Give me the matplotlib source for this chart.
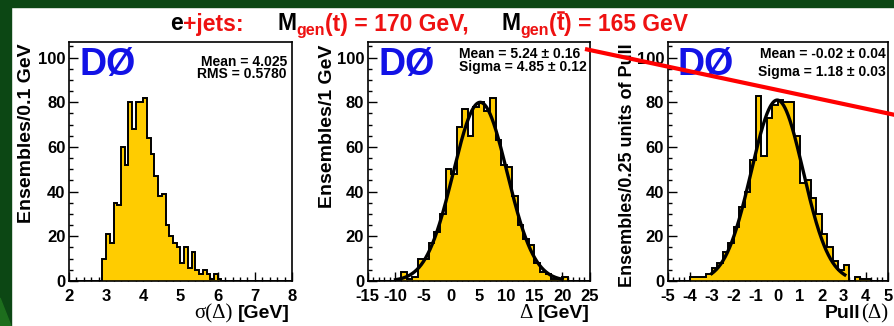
import numpy as np
import matplotlib
matplotlib.use("Agg")
import matplotlib.pyplot as plt
from matplotlib.lines import Line2D
from matplotlib.patches import Rectangle, Polygon
from matplotlib.ticker import MultipleLocator

W, H, DPI = 895, 326, 100

# sigma(Delta): 0.1 GeV bins from 2 to 8 GeV
sigma_range = (2.0, 8.0)
sigma_counts = ([0] * 9 +
                [10, 21, 17, 35, 34, 60, 52, 80, 68, 80, 80, 82, 64, 57, 47,
                 38, 39, 25, 20, 17, 15, 8, 15, 6, 13, 5, 3, 5, 3, 1, 3, 1, 0] +
                [0] * 18)
sigma_stats = ["Mean = 4.025", "RMS = 0.5780"]

# Delta: 1 GeV bins from -15 to 25 GeV
delta_range = (-15.0, 25.0)
delta_counts = [0, 0, 0, 0, 0, 0, 4, 1, 2, 10,
                10, 17, 22, 30, 50, 48, 69, 77, 65, 78,
                80, 76, 82, 63, 52, 51, 38, 25, 19, 16,
                8, 4, 3, 1, 1, 2, 0, 0, 0, 0]
delta_mean, delta_mean_err = 5.24, 0.16
delta_sigma, delta_sigma_err = 4.85, 0.12
delta_peak = 80.0
delta_fit_range = (-10.0, 20.0)

# Pull(Delta): 0.25 bins from -5 to 5
pull_range = (-5.0, 5.0)
pull_counts = [0, 0, 0, 0, 2, 2, 2, 3, 6, 8,
               13, 17, 24, 33, 40, 54, 83, 56, 73, 79,
               81, 80, 80, 65, 44, 45, 37, 30, 21, 15,
               9, 5, 7, 0, 2, 1, 1, 0, 0, 0]
pull_mean, pull_mean_err = -0.02, 0.04
pull_sigma, pull_sigma_err = 1.18, 0.03
pull_peak = 81.0
pull_fit_range = (-3.0, 3.05)

GOLD = "#ffcc00"
RED = "#ee1111"
BLUE = "#1212e6"
GREEN = "#0c4714"
LGREEN = "#1d6e1d"

plt.rcParams["font.family"] = ["Liberation Sans", "DejaVu Sans"]
plt.rcParams["font.weight"] = "bold"

fig = plt.figure(figsize=(W / DPI, H / DPI), dpi=DPI)
fig.patch.set_facecolor("white")


def fx(x):
    return x / W


def fy(y):
    return 1 - y / H


# slide frame
fig.add_artist(Rectangle((0, fy(6.5)), 1, 6.5 / H, transform=fig.transFigure,
                         color=GREEN, zorder=0))
fig.add_artist(Rectangle((0, 0), fx(11), 1, transform=fig.transFigure,
                         color=GREEN, zorder=0))
fig.add_artist(Polygon([(0, fy(298)), (fx(11), fy(326)), (0, fy(326))],
                       closed=True, transform=fig.transFigure, color=LGREEN,
                       zorder=0.5))

renderer = fig.canvas.get_renderer()


def run(pieces, x, y, align="left"):
    """Place text pieces one after another on a common baseline (pixels)."""
    arts = []
    total = 0.0
    for s, props, dy, gap in pieces:
        t = fig.text(0, 0, s, ha="left", va="baseline", **props)
        w = t.get_window_extent(renderer).width
        arts.append((t, dy, w, gap))
        total += w + gap
    total -= arts[-1][3]
    x0 = x - total if align == "right" else x
    for t, dy, w, gap in arts:
        t.set_position((fx(x0), fy(y + dy)))
        x0 += w + gap
    return arts


def make_axes(left_px, right_px, lo, hi, major, minor):
    ax = fig.add_axes([fx(left_px), fy(281), (right_px - left_px) / W,
                       (281 - 42) / H])
    ax.set_xlim(lo, hi)
    ax.set_ylim(0, 107)
    ax.xaxis.set_major_locator(MultipleLocator(major))
    ax.xaxis.set_minor_locator(MultipleLocator(minor))
    ax.yaxis.set_major_locator(MultipleLocator(20))
    ax.yaxis.set_minor_locator(MultipleLocator(5))
    ax.tick_params(which="both", direction="in", top=False, right=False,
                   labelsize=12, width=1.0, colors="black")
    ax.tick_params(which="major", length=6.5)
    ax.tick_params(which="minor", length=3.2)
    ax.tick_params(axis="x", which="major", pad=6)
    ax.tick_params(axis="y", which="major", pad=2.5)
    for sp in ax.spines.values():
        sp.set_linewidth(1.2)
    ax.set_xticklabels([f"{v:g}" for v in ax.get_xticks()])
    return ax


def draw_hist(ax, counts, lo, hi):
    edges = np.linspace(lo, hi, len(counts) + 1)
    ax.stairs(counts, edges, fill=True, color=GOLD, zorder=2)
    ax.stairs(counts, edges, color="black", lw=1.4, zorder=3)


def draw_fit(ax, mean, sigma, peak, xr):
    xs = np.linspace(xr[0], xr[1], 300)
    ax.plot(xs, peak * np.exp(-0.5 * ((xs - mean) / sigma) ** 2),
            color="black", lw=2.4, zorder=4)


def logo(x, y):
    fig.text(fx(x), fy(y), "DØ", color=BLUE, fontsize=27, fontweight="bold",
             ha="left", va="center")


serif = dict(family=["Liberation Serif", "DejaVu Serif"], fontweight="normal",
             fontsize=15, color="black")
sans = dict(fontsize=14, fontweight="bold", color="black")
STAT = 10

# ---- sigma(Delta) panel
ax1 = make_axes(69, 292, *sigma_range, 1, 0.2)
draw_hist(ax1, sigma_counts, *sigma_range)
logo(79, 65)
fig.text(fx(287), fy(62), sigma_stats[0], fontsize=STAT, ha="right", va="center")
fig.text(fx(287), fy(74.5), sigma_stats[1], fontsize=STAT, ha="right", va="center")
fig.text(fx(27), fy(43), "Ensembles/0.1 GeV", rotation=90, fontsize=14,
         ha="center", va="top")
run([("σ(Δ)", serif, 0, 5), ("[GeV]", sans, 0, 0)], 290, 318, align="right")

# ---- Delta panel
ax2 = make_axes(367.7, 590, *delta_range, 5, 1)
draw_hist(ax2, delta_counts, *delta_range)
draw_fit(ax2, delta_mean, delta_sigma, delta_peak, delta_fit_range)
logo(379, 65)
fig.text(fx(459), fy(53.5), f"Mean = {delta_mean:.2f} ± {delta_mean_err:.2f}",
         fontsize=STAT, ha="left", va="center")
fig.text(fx(459), fy(67), f"Sigma = {delta_sigma:.2f} ± {delta_sigma_err:.2f}",
         fontsize=STAT, ha="left", va="center")
fig.text(fx(328), fy(45), "Ensembles/1 GeV", rotation=90, fontsize=14,
         ha="center", va="top")
run([("Δ", serif, 0, 5), ("[GeV]", sans, 0, 0)], 590, 318, align="right")

# ---- Pull panel
ax3 = make_axes(667.7, 887.7, *pull_range, 1, 0.25)
draw_hist(ax3, pull_counts, *pull_range)
draw_fit(ax3, pull_mean, pull_sigma, pull_peak, pull_fit_range)
logo(678, 65)
fig.text(fx(886), fy(53.5), f"Mean = {pull_mean:.2f} ± {pull_mean_err:.2f}",
         fontsize=STAT, ha="right", va="center")
fig.text(fx(886), fy(72.5), f"Sigma = {pull_sigma:.2f} ± {pull_sigma_err:.2f}",
         fontsize=STAT, ha="right", va="center")
fig.text(fx(628), fy(43), "Ensembles/0.25 units of Pull", rotation=90,
         fontsize=13, ha="center", va="top")
run([("Pull", sans, 0, 0), ("(Δ)", serif, 0, 0)], 888, 318, align="right")

# ---- title line
tsz = 16.5
big_k = dict(fontsize=tsz, fontweight="bold", color="black")
big_r = dict(fontsize=tsz, fontweight="bold", color=RED)
sub_r = dict(fontsize=11.5, fontweight="bold", color=RED)
pieces = [("e", big_k, 0, 0), ("+jets:", big_r, 0, 34),
          ("M", big_k, 0, 0), ("gen", sub_r, 4, 0), ("(t) = 170 GeV,", big_r, 0, 33),
          ("M", big_k, 0, 0), ("gen", sub_r, 4, 0), ("(", big_r, 0, 0),
          ("t", big_r, 0, 0), (") = 165 GeV", big_r, 0, 0)]
arts = run(pieces, 170, 30.5)
tbar = arts[8][0]
bb = tbar.get_window_extent(renderer)
fig.add_artist(Line2D([bb.x0 / W + 0.001, bb.x1 / W - 0.001],
                      [fy(12), fy(12)], transform=fig.transFigure,
                      color=RED, lw=1.8))

# pointer line across the right panels
fig.add_artist(Line2D([fx(585), fx(900)], [fy(49), fy(116)],
                      transform=fig.transFigure, color="#ff0000", lw=3,
                      zorder=20, solid_capstyle="butt"))

fig.savefig("out.png", dpi=DPI, facecolor="white")
